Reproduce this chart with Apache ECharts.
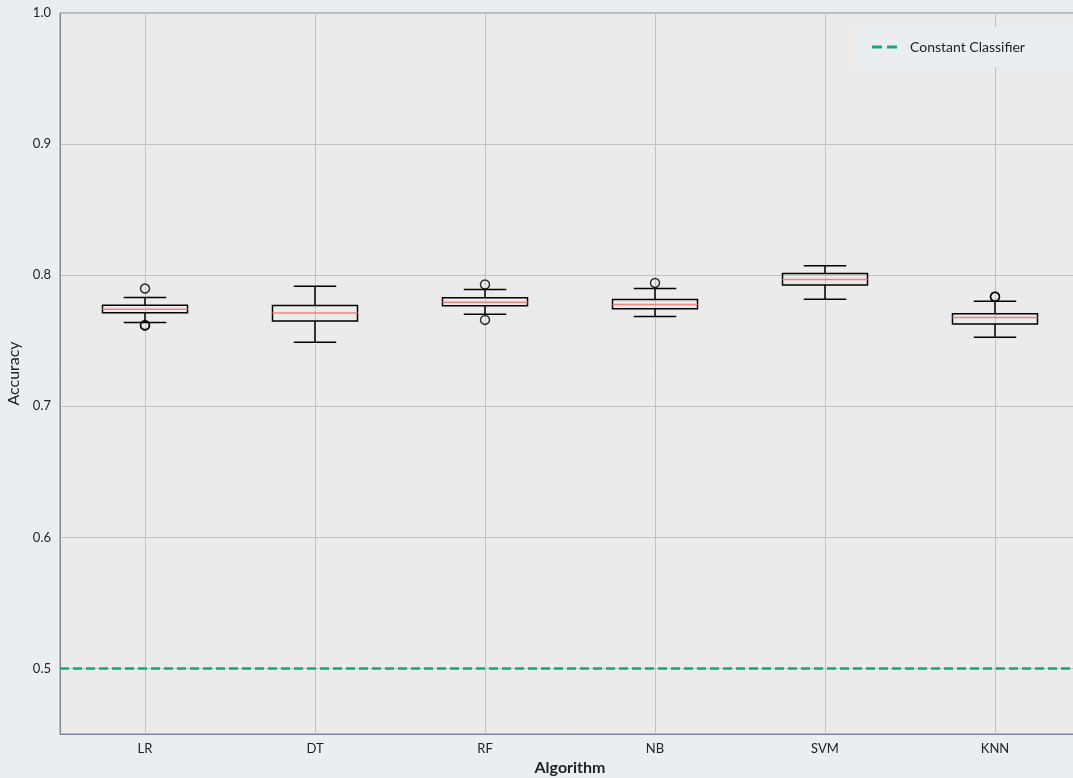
<!DOCTYPE html>
<html>
<head>
<meta charset="utf-8">
<script src="https://cdn.jsdelivr.net/npm/echarts@6/dist/echarts.min.js"></script>
<style>
  html, body { margin: 0; padding: 0; background: #eaeef0; }
  #chart { width: 1073px; height: 778px; }
</style>
</head>
<body>
<div id="chart"></div>
<script>
// Cross-validated accuracy per algorithm
const algorithms = ['LR', 'DT', 'RF', 'NB', 'SVM', 'KNN'];
// five-number summaries: [lower whisker, Q1, median, Q3, upper whisker]
const boxStats = [
  [0.7639, 0.7714, 0.7740, 0.7771, 0.7830],
  [0.7489, 0.7651, 0.7712, 0.7769, 0.7916],
  [0.7702, 0.7766, 0.7794, 0.7827, 0.7891],
  [0.7685, 0.7743, 0.7776, 0.7814, 0.7898],
  [0.7817, 0.7926, 0.7967, 0.8013, 0.8071],
  [0.7527, 0.7628, 0.7677, 0.7705, 0.7802]
];
// flier points: [algorithm index, accuracy]
const outliers = [
  [0, 0.7898], [0, 0.7620], [0, 0.7615],
  [2, 0.7929], [2, 0.7659],
  [3, 0.7941],
  [5, 0.7833], [5, 0.7837]
];
const baselineName = 'Constant Classifier';
const baselineValue = 0.5;
const yTicks = [0.5, 0.6, 0.7, 0.8, 0.9, 1.0];

const boxData = boxStats.map((s, i) => [i + 1].concat(s));
const flierData = outliers.map(o => [o[0] + 1, o[1]]);

const chart = echarts.init(document.getElementById('chart'), null, { renderer: 'canvas' });

const FONT = 'Lato, "Noto Sans", sans-serif';

function renderBox(params, api) {
  const x = api.value(0);
  const lo = api.coord([x, api.value(1)]);
  const q1 = api.coord([x, api.value(2)]);
  const med = api.coord([x, api.value(3)]);
  const q3 = api.coord([x, api.value(4)]);
  const hi = api.coord([x, api.value(5)]);
  const halfBox = api.size([0.25, 0])[0];
  const halfCap = api.size([0.125, 0])[0];
  const cx = lo[0];
  const black = { stroke: '#000', lineWidth: 1.5, fill: null };
  return {
    type: 'group',
    children: [
      { type: 'line', shape: { x1: cx, y1: q1[1], x2: cx, y2: lo[1] }, style: black },
      { type: 'line', shape: { x1: cx, y1: q3[1], x2: cx, y2: hi[1] }, style: black },
      { type: 'line', shape: { x1: cx - halfCap, y1: lo[1], x2: cx + halfCap, y2: lo[1] }, style: black },
      { type: 'line', shape: { x1: cx - halfCap, y1: hi[1], x2: cx + halfCap, y2: hi[1] }, style: black },
      { type: 'rect', shape: { x: cx - halfBox, y: q3[1], width: halfBox * 2, height: q1[1] - q3[1] }, style: black },
      { type: 'line', shape: { x1: cx - halfBox, y1: med[1], x2: cx + halfBox, y2: med[1] },
        style: { stroke: '#f4837d', lineWidth: 1.5 } }
    ]
  };
}

const option = {
  backgroundColor: '#eaeef0',
  animation: false,
  textStyle: { fontFamily: FONT },
  grid: {
    left: 60, top: 13, width: 1020, height: 721,
    show: true, backgroundColor: '#ebebeb', borderColor: '#7d8796', borderWidth: 1,
    containLabel: false, outerBoundsMode: 'none'
  },
  legend: {
    data: [{ name: baselineName,
      icon: 'path://M0,0H10V3H0Z M15,0H25V3H15Z' }],
    left: 853, top: 27,
    padding: [13, 60, 13, 19],
    itemWidth: 25, itemHeight: 3, itemGap: 10,
    backgroundColor: '#eaeef0',
    textStyle: { fontFamily: FONT, fontSize: 14, color: '#222', padding: [0, 0, 0, 8] },
    selectedMode: false
  },
  xAxis: {
    type: 'value', min: 0.5, max: 6.5, minInterval: 1, maxInterval: 1,
    name: 'Algorithm', nameLocation: 'middle', nameGap: 24,
    nameTextStyle: { fontFamily: FONT, fontSize: 16, fontWeight: 'bold', color: '#222' },
    axisLine: { show: true, lineStyle: { color: '#7d8796', width: 1 } },
    axisTick: { show: false },
    axisLabel: {
      fontFamily: FONT, fontSize: 13, color: '#222', margin: 8,
      showMinLabel: false, showMaxLabel: false,
      formatter: v => (Math.abs(v - Math.round(v)) < 1e-6 && v >= 1 && v <= algorithms.length) ? algorithms[Math.round(v) - 1] : ''
    },
    splitLine: { show: true, lineStyle: { color: '#c2c2c2', width: 1 } }
  },
  yAxis: {
    type: 'value', min: 0.45, max: 1.0, splitNumber: 5,
    name: 'Accuracy', nameLocation: 'middle', nameGap: 32, nameRotate: 90,
    nameTextStyle: { fontFamily: FONT, fontSize: 16, color: '#222' },
    axisLine: { show: true, lineStyle: { color: '#7d8796', width: 1 } },
    axisTick: { show: false },
    axisLabel: {
      fontFamily: FONT, fontSize: 13, color: '#222', margin: 9,
      formatter: v => {
        const hit = yTicks.find(t => Math.abs(t - v) < 1e-6);
        return hit === undefined ? '' : hit.toFixed(1);
      }
    },
    splitLine: { show: true, lineStyle: { color: '#c2c2c2', width: 1 } }
  },
  series: [
    {
      name: baselineName, type: 'line',
      data: [[0.5, baselineValue], [6.5, baselineValue]],
      symbol: 'none', silent: true, z: 3,
      itemStyle: { color: '#17a77c' },
      lineStyle: { color: '#17a77c', width: 2.6, type: [9, 4] }
    },
    {
      name: 'box', type: 'custom', renderItem: renderBox,
      data: boxData, encode: { x: 0, y: [1, 2, 3, 4, 5] }, z: 4, silent: true
    },
    {
      name: 'outliers', type: 'scatter', data: flierData,
      symbol: 'circle', symbolSize: 9, z: 5, silent: true,
      itemStyle: { color: 'rgba(0,0,0,0)', borderColor: '#000', borderWidth: 1.5 }
    }
  ]
};

chart.setOption(option);
</script>
</body>
</html>
